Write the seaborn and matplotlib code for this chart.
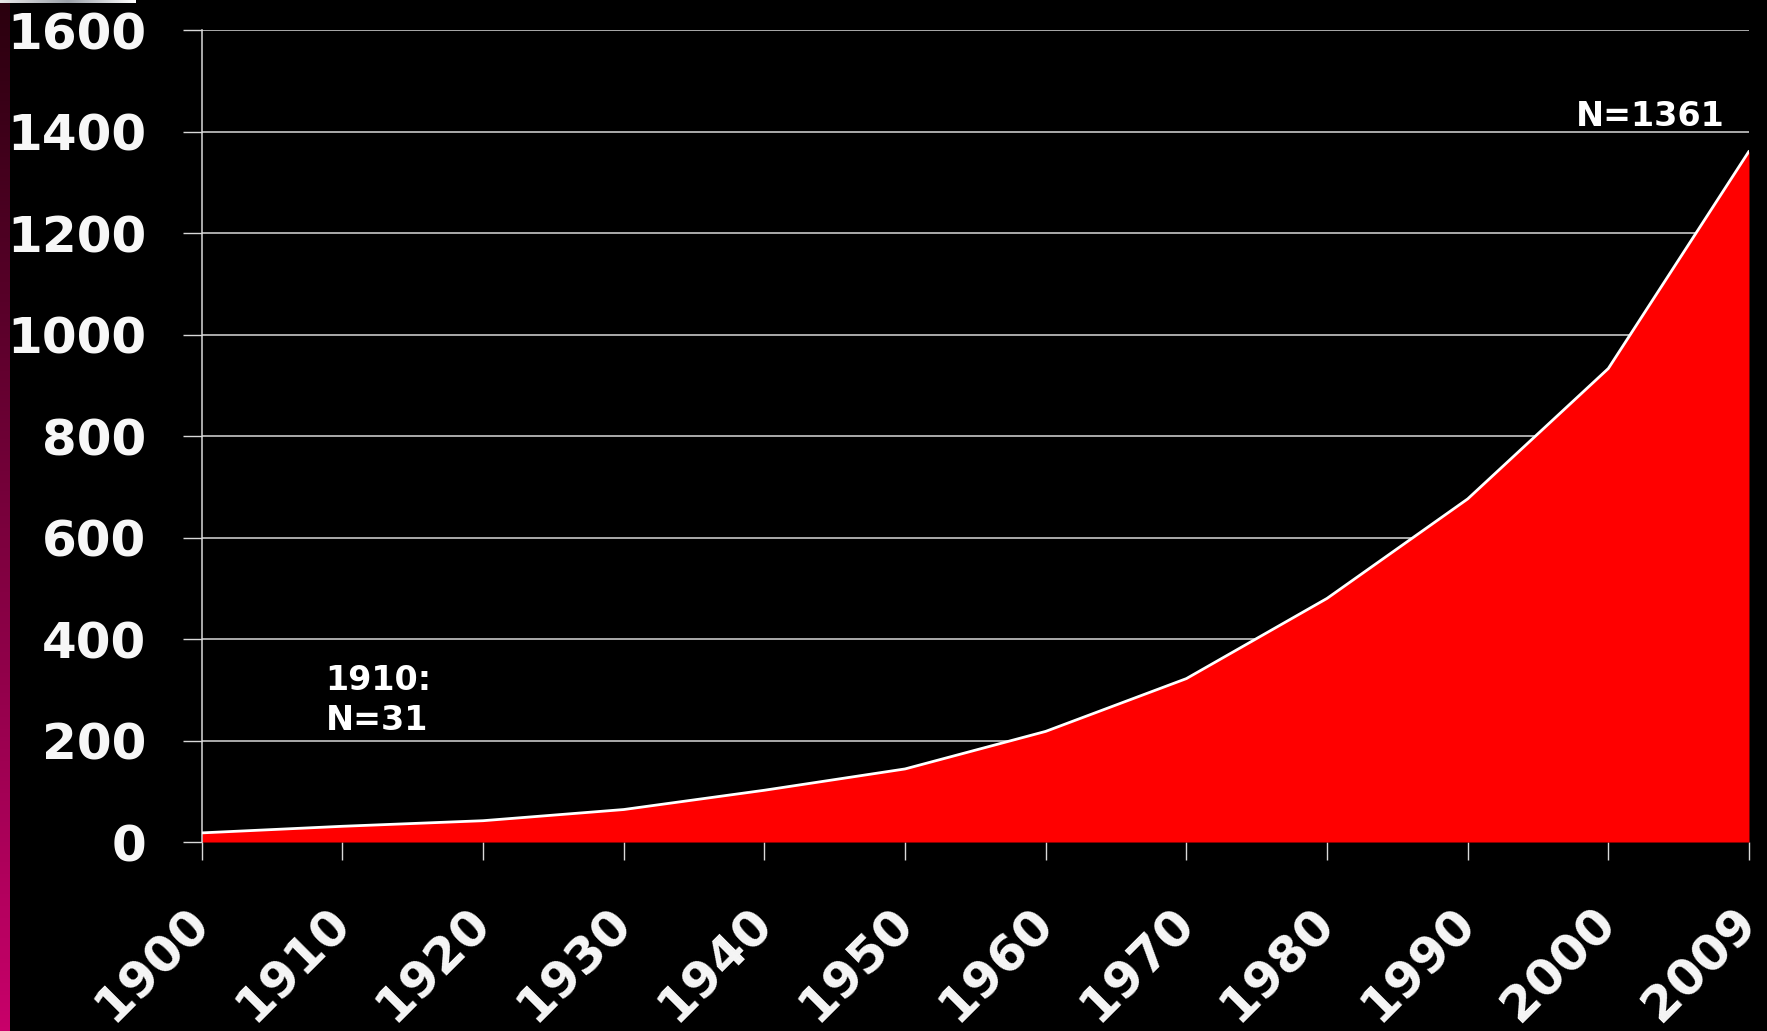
import numpy as np
import pandas as pd
import matplotlib
matplotlib.use("Agg")
import matplotlib.pyplot as plt
import seaborn as sns

# values
years = ["1900", "1910", "1920", "1930", "1940", "1950",
         "1960", "1970", "1980", "1990", "2000", "2009"]
counts = [18, 31, 42, 64, 102, 144, 218, 322, 480, 676, 933, 1361]
y_ticks = [0, 200, 400, 600, 800, 1000, 1200, 1400, 1600]

df = pd.DataFrame({"pos": np.arange(len(years)), "year": years, "n": counts})

sns.set_theme(style="dark", rc={
    "figure.facecolor": "black",
    "axes.facecolor": "black",
    "savefig.facecolor": "black",
})
plt.rcParams["font.family"] = ["DejaVu Sans"]

fig = plt.figure(figsize=(17.67, 10.31), dpi=100)
ax = fig.add_axes([0.1142, 0.1833, 0.9898 - 0.1142, 0.9709 - 0.1833])

ax.fill_between(df["pos"], df["n"], 0, color="#ff0000", lw=0, zorder=2)
sns.lineplot(data=df, x="pos", y="n", color="white", lw=2, ax=ax, zorder=3)

ax.set_xlim(0, len(years) - 1)
ax.set_ylim(0, 1600)
ax.set_yticks(y_ticks)
ax.set_yticklabels([str(v) for v in y_ticks], fontsize=36, fontweight="bold", color="#f7f7f7")
ax.set_xticks(df["pos"])
ax.set_xticklabels(years, fontsize=36, fontweight="bold", color="#f7f7f7",
                   rotation=45, ha="right", va="center", rotation_mode="anchor")
ax.set_xlabel("")
ax.set_ylabel("")

ax.grid(axis="y", color="#d9d9d9", lw=1.1, zorder=1)
ax.grid(axis="x", visible=False)
ax.tick_params(axis="y", direction="out", length=14, width=1, color="#d9d9d9", pad=26, left=True)
ax.tick_params(axis="x", direction="out", length=13, width=1, color="#d9d9d9", pad=40, bottom=True)
for s in ["top", "right", "bottom"]:
    ax.spines[s].set_visible(False)
ax.spines["left"].set_color("#d9d9d9")
ax.spines["left"].set_linewidth(1.1)

ax.text(0.88, 350, "1910:\nN=31", fontsize=24, fontweight="bold", color="white",
        ha="left", va="top", linespacing=1.25)
ax.text(10.83, 1398, "N=1361", fontsize=24, fontweight="bold", color="white",
        ha="right", va="bottom")

# magenta strip on the left edge
strip = fig.add_axes([0, 0, 10 / 1767, 1])
grad = np.linspace(0, 1, 256).reshape(-1, 1)
cmap = matplotlib.colors.LinearSegmentedColormap.from_list("strip", ["#c8006a", "#2a000e"])
strip.imshow(grad, aspect="auto", cmap=cmap, origin="lower")
strip.axis("off")
bar = fig.add_axes([0, 1 - 3 / 1031, 135 / 1767, 3 / 1031])
bar.imshow(np.linspace(0, 1, 64).reshape(1, -1), aspect="auto",
           cmap=matplotlib.colors.LinearSegmentedColormap.from_list("bar", ["#e8e8e8", "#9aa0a8", "#ffffff"]))
bar.axis("off")

fig.savefig("out.png", dpi=100)
